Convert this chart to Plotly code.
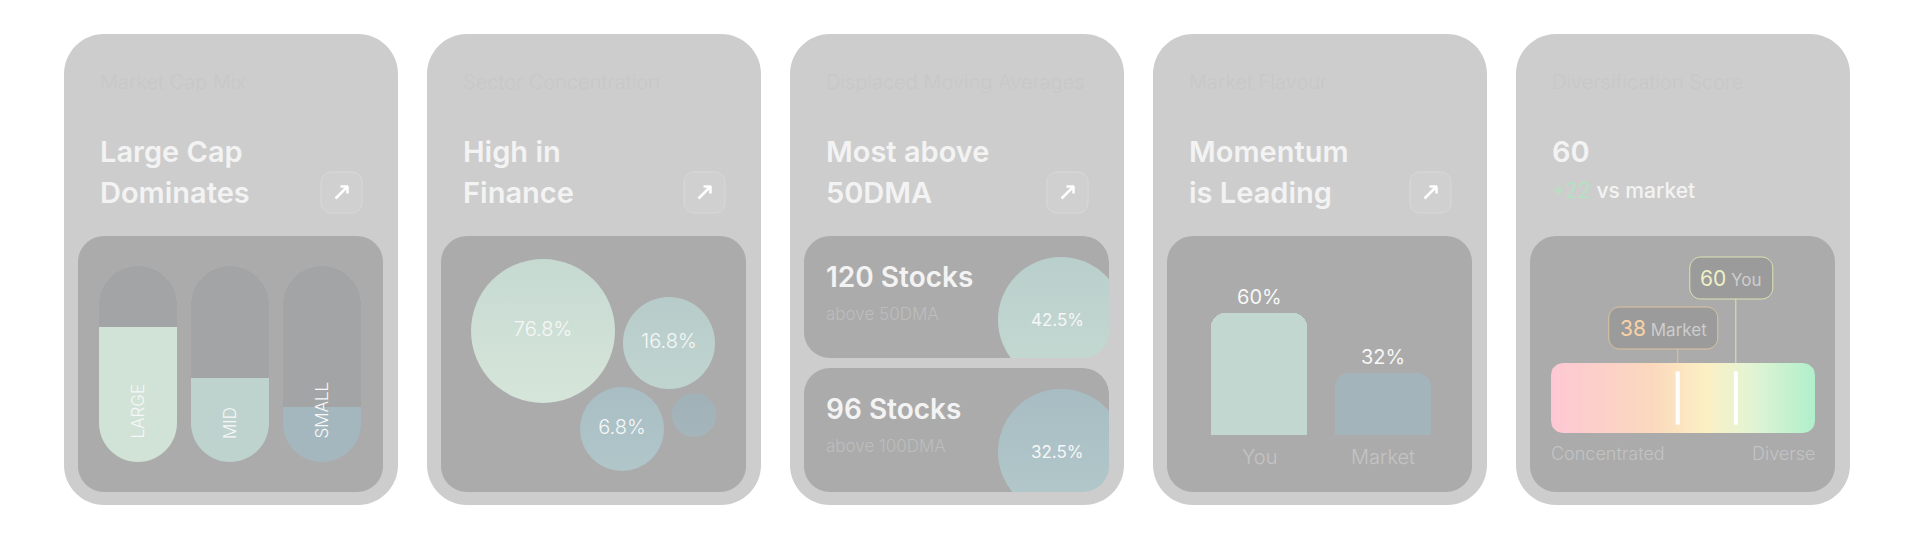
import math
import plotly.graph_objects as go

W, H = 1912, 540
FONT = "Inter, Roboto, 'Noto Sans', sans-serif"

# ------------------------------------------------------------------ data
CARD_SUBTITLES = ["Market Cap Mix", "Sector Concentration", "Displaced Moving Averages",
                  "Market Flavour", "Diversification Score"]
CARD_TITLES = [["Large Cap", "Dominates"], ["High in", "Finance"], ["Most above", "50DMA"],
               ["Momentum", "is Leading"], ["60"]]

CAP_LABELS = ["LARGE", "MID", "SMALL"]
CAP_FILL = [69, 43, 28]                      # fill level of each pill (%)

SECTOR_SHARE = [76.8, 16.8, 6.8, 2.0]
SECTOR_LABELS = ["76.8%", "16.8%", "6.8%", ""]

DMA_COUNTS = [120, 96]
DMA_LABELS = ["above 50DMA", "above 100DMA"]
DMA_PCT = [42.5, 32.5]

FLAVOUR_CATS = ["You", "Market"]
FLAVOUR_VALS = [60, 32]

DIV_YOU = 60
DIV_MARKET = 38
DIV_DELTA = 22
DIV_ENDS = ["Concentrated", "Diverse"]

# ------------------------------------------------------------------ layout constants
CARD_X = [64, 427, 790, 1153, 1516]
CARD_W = 334
CARD_Y0, CARD_Y1, CARD_R = 34, 505, 40
INSET = 14
PANEL_Y0, PANEL_Y1, PANEL_R = 236, 492, 26
CARD_BG = "#cdcdcd"
PANEL_BG = "#ababab"
TITLE_C = "#f3f3f3"
FAINT_C = "#c8c8c8"

K = 0.5523


def px(x):
    return x / W


def py(y):
    return 1 - y / H


def P(x, y):
    return f"{px(x):.6f},{py(y):.6f}"


def rr_path(x0, y0, x1, y1, r):
    k = r * K
    return (f"M{P(x0 + r, y0)} L{P(x1 - r, y0)} C{P(x1 - r + k, y0)} {P(x1, y0 + r - k)} {P(x1, y0 + r)} "
            f"L{P(x1, y1 - r)} C{P(x1, y1 - r + k)} {P(x1 - r + k, y1)} {P(x1 - r, y1)} "
            f"L{P(x0 + r, y1)} C{P(x0 + r - k, y1)} {P(x0, y1 - r + k)} {P(x0, y1 - r)} "
            f"L{P(x0, y0 + r)} C{P(x0, y0 + r - k)} {P(x0 + r - k, y0)} {P(x0 + r, y0)} Z")


def corner_mask(cx, cy, r, corner):
    k = r * K
    if corner == "tr":
        return (f"M{P(cx - r, cy)} L{P(cx, cy)} L{P(cx, cy + r)} "
                f"C{P(cx, cy + r - k)} {P(cx - r + k, cy)} {P(cx - r, cy)} Z")
    if corner == "br":
        return (f"M{P(cx, cy - r)} L{P(cx, cy)} L{P(cx - r, cy)} "
                f"C{P(cx - r + k, cy)} {P(cx, cy - r + k)} {P(cx, cy - r)} Z")
    if corner == "bl":
        return (f"M{P(cx, cy - r)} L{P(cx, cy)} L{P(cx + r, cy)} "
                f"C{P(cx + r - k, cy)} {P(cx, cy - r + k)} {P(cx, cy - r)} Z")
    return (f"M{P(cx + r, cy)} L{P(cx, cy)} L{P(cx, cy + r)} "
            f"C{P(cx, cy + r - k)} {P(cx + r - k, cy)} {P(cx + r, cy)} Z")


shapes = []
annotations = []


def add_shape(path, fill, line=None, lw=0, layer="below"):
    shapes.append(dict(type="path", path=path, xref="paper", yref="paper", fillcolor=fill,
                       line=dict(color=line or "rgba(0,0,0,0)", width=lw), layer=layer))


def txt(x, y, text, size, color, weight=400, xanchor="left", yanchor="middle", xref="paper", yref="paper",
        **kw):
    if xref == "paper":
        x = px(x)
    if yref == "paper":
        y = py(y)
    annotations.append(dict(x=x, y=y, xref=xref, yref=yref, text=text, showarrow=False,
                            xanchor=xanchor, yanchor=yanchor, borderpad=0, borderwidth=0,
                            font=dict(family=FONT, size=size, color=color, weight=weight), **kw))


# ---- cards, panels, headers
for i, cx in enumerate(CARD_X):
    add_shape(rr_path(cx, CARD_Y0, cx + CARD_W, CARD_Y1, CARD_R), CARD_BG)
    if i == 2:
        add_shape(rr_path(cx + INSET, PANEL_Y0, cx + CARD_W - INSET - 1, 358, PANEL_R), PANEL_BG)
        add_shape(rr_path(cx + INSET, 368, cx + CARD_W - INSET - 1, PANEL_Y1, PANEL_R), PANEL_BG)
    else:
        add_shape(rr_path(cx + INSET, PANEL_Y0, cx + CARD_W - INSET - 1, PANEL_Y1, PANEL_R), PANEL_BG)
    txt(cx + 36, 82, CARD_SUBTITLES[i], 20, FAINT_C, 300)
    lines = CARD_TITLES[i]
    txt(cx + 36, 151, lines[0], 29, TITLE_C, 600)
    if len(lines) > 1:
        txt(cx + 36, 192, lines[1], 29, TITLE_C, 600)
    if i < 4:
        bx0, by0 = cx + 257, 172
        add_shape(rr_path(bx0, by0, bx0 + 41, by0 + 41, 10), "#d0d0d0", "#d9d9d9", 1)
        ax, ay = bx0 + 20.5, by0 + 20.5
        for (x0, y0, x1, y1) in [(ax - 6, ay + 6, ax + 6, ay - 6), (ax - 1, ay - 6, ax + 6.5, ay - 6),
                                 (ax + 6, ay - 6.5, ax + 6, ay + 1)]:
            shapes.append(dict(type="line", xref="paper", yref="paper", x0=px(x0), y0=py(y0),
                               x1=px(x1), y1=py(y1), line=dict(color="#ffffff", width=2.5), layer="above"))

fig = go.Figure()

# ---------------------------------------------------------------- card 1: pills (x / y)
PILL_C0, PILL_STEP, PILL_R = 138, 92, 39
PILL_TOP, PILL_BOT = 266, 462
pill_colors = ["#d1e2d7", "#bed3ce", "#a5b7be"]
x_idx = list(range(len(CAP_LABELS)))
fig.add_trace(go.Bar(x=x_idx, y=[100] * len(x_idx), width=78 / PILL_STEP, marker=dict(color="#a3a4a6",
                     cornerradius=PILL_R, line=dict(width=0)), xaxis="x", yaxis="y", hoverinfo="skip"))
fig.add_trace(go.Bar(x=x_idx, y=CAP_FILL, width=78 / PILL_STEP, marker=dict(color=pill_colors,
                     cornerradius=4, line=dict(width=0)), xaxis="x", yaxis="y",
                     customdata=CAP_LABELS, hovertemplate="%{customdata}: %{y}<extra></extra>"))
for i, lab in enumerate(CAP_LABELS):
    c = PILL_C0 + i * PILL_STEP
    add_shape(corner_mask(c - PILL_R, PILL_BOT, PILL_R, "bl"), PANEL_BG, layer="above")
    add_shape(corner_mask(c + PILL_R, PILL_BOT, PILL_R, "br"), PANEL_BG, layer="above")
    txt(i, 11.7, lab, 17, "#f7f7f7", 300, xanchor="center", yanchor="bottom", xref="x", yref="y",
        textangle=-90)

# ---------------------------------------------------------------- card 2: bubbles (x2 / y2)
BUB_POS = [(102, 95), (228, 107), (181, 193), (253, 179)]
BUB_D = [144, 92, 84, 44]
bub_top = ["#d6e5d9", "#c0d4cf", "#b0c6c9", "#a4b6bc"]
bub_bot = ["#c6dad2", "#b7ccca", "#a8bec4", "#a0b1b8"]
fig.add_trace(go.Scatter(
    x=[p[0] for p in BUB_POS], y=[p[1] for p in BUB_POS], mode="markers+text",
    text=SECTOR_LABELS, textposition="middle center", customdata=SECTOR_SHARE,
    hovertemplate="%{customdata}%<extra></extra>",
    textfont=dict(family=FONT, size=20, color="#f7f7f7", weight=300),
    marker=dict(size=BUB_D, color=bub_bot, opacity=1, line=dict(width=0),
                gradient=dict(type="vertical", color=bub_top)),
    xaxis="x2", yaxis="y2", cliponaxis=False))

# ---------------------------------------------------------------- card 3: DMA (x3/y3, x4/y4)
dma_panels = [(236, 358), (368, 492)]
dma_top = ["#c6dad3", "#b4c9cb"]
dma_bot = ["#b9cfcb", "#a8bdc3"]
px0, px1 = CARD_X[2] + INSET, CARD_X[2] + CARD_W - INSET - 1
for j, (y0, y1) in enumerate(dma_panels):
    ax_id = str(3 + j)
    fig.add_trace(go.Scatter(x=[257], y=[84], mode="markers",
                             marker=dict(size=126, color=dma_bot[j], line=dict(width=0),
                                         gradient=dict(type="vertical", color=dma_top[j])),
                             customdata=[DMA_PCT[j]], hovertemplate="%{customdata}%<extra></extra>",
                             xaxis="x" + ax_id, yaxis="y" + ax_id, cliponaxis=True))
    txt(257, 84, f"{DMA_PCT[j]}%", 17, "#f7f7f7", 400, xanchor="center", xref="x" + ax_id,
        yref="y" + ax_id, xshift=-4)
    add_shape(corner_mask(px1, y0, PANEL_R, "tr"), CARD_BG, layer="above")
    add_shape(corner_mask(px1, y1, PANEL_R, "br"), CARD_BG, layer="above")
    txt(826, y0 + 41, f"{DMA_COUNTS[j]} Stocks", 28, TITLE_C, 600)
    txt(826, y0 + 78, DMA_LABELS[j], 17, "#bdbdbd", 300)

# ---------------------------------------------------------------- card 4: bars (x5 / y5)
BAR_Y_RANGE = [3.1, 96.4]
fig.add_trace(go.Bar(x=FLAVOUR_CATS, y=FLAVOUR_VALS, width=96 / 124,
                     marker=dict(color=["#c2d7d0", "#a3b4bb"], cornerradius=14, line=dict(width=0)),
                     xaxis="x5", yaxis="y5", hovertemplate="%{x}: %{y}%<extra></extra>"))
for c, v in zip(FLAVOUR_CATS, FLAVOUR_VALS):
    txt(c, v, f"{v}%", 20, "#f7f7f7", 400, xanchor="center", xref="x5", yref="y5", yshift=16)
    txt(c, BAR_Y_RANGE[0], c, 20, "#c4c4c4", 300, xanchor="center", xref="x5", yref="y5", yshift=-22)

# ---------------------------------------------------------------- card 5: gauge (x6 / y6)
G_RANGE = [-10, 90]
G_X0, G_X1, G_Y0, G_Y1 = 1551, 1815, 363, 433
gr = 12
ux = gr * (G_RANGE[1] - G_RANGE[0]) / (G_X1 - G_X0)
uy = gr / (G_Y1 - G_Y0)
gx, gy = [], []
corners = [(G_RANGE[1] - ux, 1 - uy, 0), (G_RANGE[0] + ux, 1 - uy, 90), (G_RANGE[0] + ux, uy, 180),
           (G_RANGE[1] - ux, uy, 270)]
for (cx_, cy_, a0) in corners:
    for s in range(9):
        a = math.radians(a0 + s * 90 / 8)
        gx.append(cx_ + ux * math.cos(a))
        gy.append(cy_ + uy * math.sin(a))
fig.add_trace(go.Scatter(x=gx, y=gy, mode="lines", fill="toself", line=dict(width=0),
                         fillgradient=dict(type="horizontal", colorscale=[
                             [0, "#fdc8d4"], [0.38, "#fbd8bd"], [0.58, "#fcefc3"],
                             [0.75, "#e4f4d4"], [1, "#b0efcb"]]),
                         xaxis="x6", yaxis="y6", hoverinfo="skip"))
for v in [DIV_MARKET, DIV_YOU]:
    fig.add_trace(go.Scatter(x=[v, v], y=[0.12, 0.88], mode="lines",
                             line=dict(color="#ffffff", width=4), xaxis="x6", yaxis="y6",
                             hovertemplate=f"{v}<extra></extra>"))


def gpx(v):
    return G_X0 + (v - G_RANGE[0]) / (G_RANGE[1] - G_RANGE[0]) * (G_X1 - G_X0)


BOXES = [(DIV_MARKET, "Market", -69, 40, 307, 349, "#dcc39f", "#f7d3a6"),
         (DIV_YOU, "You", -46, 37, 257, 299, "#dfe2b3", "#eef1c6")]
for v, name, dl, dr, by0, by1, bc, nc in BOXES:
    mx = gpx(v)
    add_shape(rr_path(mx + dl, by0, mx + dr, by1, 11), "#9b9b9b", bc, 1, layer="above")
    shapes.append(dict(type="line", xref="x6", yref="paper", x0=v, x1=v, y0=py(by1), y1=py(G_Y0),
                       line=dict(color=bc, width=1), layer="above"))
    txt(mx + (dl + dr) / 2, (by0 + by1) / 2,
        f"<span style='color:{nc};font-size:21px'>{v}</span> "
        f"<span style='color:#cdcdcd;font-size:17px'>{name}</span>",
        17, "#cdcdcd", 400, xanchor="center")
txt(G_X0, 453, DIV_ENDS[0], 18, "#c3c3c3", 300)
txt(G_X1, 453, DIV_ENDS[1], 18, "#c3c3c3", 300, xanchor="right")
txt(CARD_X[4] + 36, 191, f"<span style='color:#aee6bf;font-weight:300'>+{DIV_DELTA}</span> vs market",
    21, TITLE_C, 500)


# ---------------------------------------------------------------- axes
def dom_x(a, b):
    return [px(a), px(b)]


def dom_y(top, bot):
    return [py(bot), py(top)]


def axis(domain, rng, anchor, ctype=None):
    d = dict(domain=domain, range=rng, visible=False, fixedrange=True, anchor=anchor,
             showgrid=False, zeroline=False)
    if ctype:
        d["type"] = ctype
    return d


layout_axes = dict(
    xaxis=axis(dom_x(PILL_C0 - PILL_STEP / 2, PILL_C0 + 2.5 * PILL_STEP), [-0.5, 2.5], "y"),
    yaxis=axis(dom_y(PILL_TOP, PILL_BOT), [0, 100], "x"),
    xaxis2=axis(dom_x(CARD_X[1] + INSET, CARD_X[1] + INSET + 305), [0, 305], "y2"),
    yaxis2=axis(dom_y(PANEL_Y0, PANEL_Y1), [256, 0], "x2"),
    xaxis3=axis(dom_x(px0, px1), [0, px1 - px0], "y3"),
    yaxis3=axis(dom_y(236, 358), [122, 0], "x3"),
    xaxis4=axis(dom_x(px0, px1), [0, px1 - px0], "y4"),
    yaxis4=axis(dom_y(368, 492), [124, 0], "x4"),
    xaxis5=axis(dom_x(1197, 1445), [-0.5, 1.5], "y5", "category"),
    yaxis5=axis(dom_y(235, 435), BAR_Y_RANGE, "x5"),
    xaxis6=axis(dom_x(G_X0, G_X1), G_RANGE, "y6"),
    yaxis6=axis(dom_y(G_Y0, G_Y1), [0, 1], "x6"),
)

fig.update_layout(
    width=W, height=H, margin=dict(l=0, r=0, t=0, b=0), autosize=False,
    paper_bgcolor="#ffffff", plot_bgcolor="rgba(0,0,0,0)",
    showlegend=False, barmode="overlay", bargap=0,
    shapes=shapes, annotations=annotations, font=dict(family=FONT),
    **layout_axes,
)

fig.write_html("out.html", config={"displayModeBar": False},
               post_script="document.body.style.margin='0';document.body.style.overflow='hidden';")
